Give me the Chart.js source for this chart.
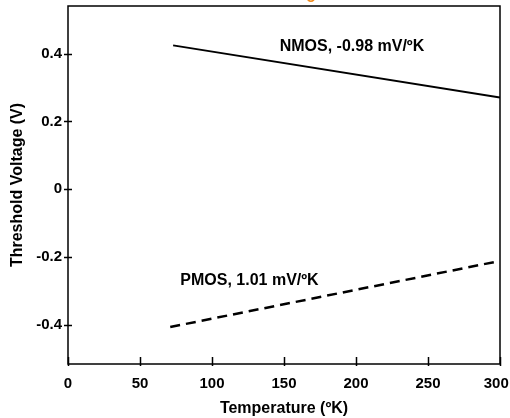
<!DOCTYPE html>
<html lang="en">
<head>
  <meta charset="UTF-8" />
  <title>Threshold Voltage vs Temperature</title>
  <script src="https://cdn.jsdelivr.net/npm/chart.js"></script>
  <style>
    html, body { margin: 0; padding: 0; background: #fff; }
    #wrap { position: relative; width: 510px; height: 418px; }
  </style>
</head>
<body>
  <div id="wrap"><canvas id="chartCanvas" width="510" height="418"></canvas></div>

  <script>
    // data
    const nmosTemp = [73, 300];
    const nmosVt = [0.424, 0.270];
    const pmosTemp = [71, 298];
    const pmosVt = [-0.406, -0.213];

    const xTicks = [0, 50, 100, 150, 200, 250, 300];
    const yTicks = [-0.4, -0.2, 0, 0.2, 0.4];

    const nmosLabel = "NMOS, -0.98 mV/ºK";
    const pmosLabel = "PMOS, 1.01 mV/ºK";

    const FONT = "'Liberation Sans', Arial, sans-serif";

    // frame, tick marks and the two curve labels
    const extras = {
      id: "extras",
      afterDraw(chart) {
        const ctx = chart.ctx;
        const a = chart.chartArea;
        const xs = chart.scales.x, ys = chart.scales.y;
        ctx.save();
        ctx.strokeStyle = "#000";
        ctx.lineWidth = 1.5;
        ctx.strokeRect(a.left, a.top, a.right - a.left, a.bottom - a.top);

        ctx.beginPath();
        xTicks.forEach(v => {
          const px = Math.round(xs.getPixelForValue(v)) + 0.5;
          ctx.moveTo(px, a.bottom + 2);
          ctx.lineTo(px, a.bottom - 7);
        });
        yTicks.forEach(v => {
          const py = Math.round(ys.getPixelForValue(v)) + 0.5;
          ctx.moveTo(a.left - 4, py);
          ctx.lineTo(a.left + 4, py);
        });
        ctx.stroke();

        ctx.fillStyle = "#000";
        ctx.font = "bold 16px " + FONT;
        ctx.textBaseline = "middle";
        ctx.textAlign = "left";
        ctx.fillText(nmosLabel, xs.getPixelForValue(147), ys.getPixelForValue(0.42));
        ctx.fillText(pmosLabel, xs.getPixelForValue(78), ys.getPixelForValue(-0.27));

        // cropped orange glyph at the top edge
        ctx.fillStyle = "#f08a1c";
        ctx.font = "bold 16px " + FONT;
        ctx.textAlign = "center";
        ctx.textBaseline = "alphabetic";
        ctx.fillText("o", 311, 2);
        ctx.restore();
      }
    };

    const ctx = document.getElementById("chartCanvas").getContext("2d");
    new Chart(ctx, {
      type: "scatter",
      data: {
        datasets: [
          {
            label: "NMOS",
            data: nmosTemp.map((t, i) => ({ x: t, y: nmosVt[i] })),
            showLine: true,
            borderColor: "#000",
            borderWidth: 2,
            pointRadius: 0
          },
          {
            label: "PMOS",
            data: pmosTemp.map((t, i) => ({ x: t, y: pmosVt[i] })),
            showLine: true,
            borderColor: "#000",
            borderWidth: 2.5,
            borderDash: [10, 6],
            pointRadius: 0
          }
        ]
      },
      options: {
        responsive: false,
        animation: false,
        layout: { padding: { left: 0, right: 0, top: 6, bottom: 0 } },
        plugins: { legend: { display: false }, tooltip: { enabled: false } },
        scales: {
          x: {
            type: "linear",
            min: 0,
            max: 300,
            afterBuildTicks: s => { s.ticks = xTicks.map(v => ({ value: v })); },
            afterFit: s => { s.height = 54; s.paddingLeft = 0; s.paddingRight = 10; },
            grid: { display: false, drawTicks: false },
            border: { display: false },
            ticks: {
              color: "#000",
              padding: 11,
              maxRotation: 0,
              font: { family: FONT, size: 15, weight: "bold" },
              // last label sits a little left so it stays inside the frame
              callback: v => (v === 300 ? "300\u2002" : String(v))
            },
            title: {
              display: true,
              text: "Temperature (ºK)",
              color: "#000",
              padding: { top: 2, bottom: 0 },
              font: { family: FONT, size: 16, weight: "bold" }
            }
          },
          y: {
            type: "linear",
            min: -0.515,
            max: 0.54,
            afterBuildTicks: s => { s.ticks = yTicks.map(v => ({ value: v })); },
            afterFit: s => { s.width = 68; s.paddingTop = 0; s.paddingBottom = 0; },
            grid: { display: false, drawTicks: false },
            border: { display: false },
            ticks: {
              color: "#000",
              padding: 6,
              font: { family: FONT, size: 15, weight: "bold" },
              callback: v => (v === 0 ? "0" : v.toFixed(1))
            },
            title: {
              display: true,
              text: "Threshold Voltage (V)",
              color: "#000",
              padding: { top: 8, bottom: 2 },
              font: { family: FONT, size: 16, weight: "bold" }
            }
          }
        }
      },
      plugins: [extras]
    });
  </script>
</body>
</html>
